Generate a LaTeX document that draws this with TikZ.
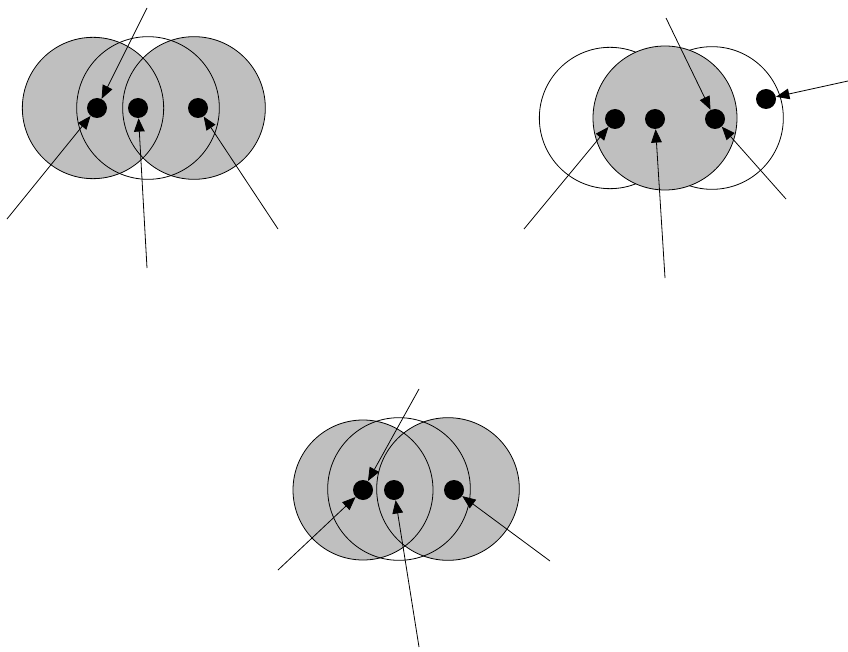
\documentclass[tikz,border=0pt]{standalone}
\usetikzlibrary{arrows.meta}
\definecolor{circgray}{gray}{0.75}
\tikzset{
  dot/.style={circle, fill=black, inner sep=0pt, minimum size=15pt},
  pointer/.style={-{Triangle[length=10pt,width=8pt]}, line width=0.6pt},
  ring/.style={line width=0.6pt},
}
\begin{document}
\begin{tikzpicture}[x=0.75pt,y=-0.75pt]
  \useasboundingbox (0,0) rectangle (848,652);
  % top left
  \fill[circgray] (93,108) circle [radius=53pt];
  \fill[circgray] (194,108) circle [radius=53.5pt];
  \draw[ring] (93,108) circle [radius=53pt];
  \draw[ring] (148,108) circle [radius=53.5pt];
  \draw[ring] (194,108) circle [radius=53.5pt];
  \node[dot] (a1) at (97,108) {};
  \node[dot] (a2) at (138,108) {};
  \node[dot] (a3) at (198,108) {};
  \coordinate (p1) at (147,8);
  \coordinate (p2) at (7,219);
  \coordinate (p3) at (147,268);
  \coordinate (p4) at (278,229);
  \draw[pointer] (p1) -- (a1);
  \draw[pointer] (p2) -- (a1);
  \draw[pointer] (p3) -- (a2);
  \draw[pointer] (p4) -- (a3);
  % top right
  \draw[ring, fill=white] (610,118) circle [radius=53pt];
  \draw[ring, fill=white] (712,118) circle [radius=53.5pt];
  \draw[ring, fill=circgray] (665,118) circle [radius=54pt];
  \node[dot] (b1) at (615,119) {};
  \node[dot] (b2) at (655,119) {};
  \node[dot] (b3) at (715,119) {};
  \node[dot] (b4) at (766,99) {};
  \coordinate (q1) at (666,18);
  \coordinate (q2) at (848,81);
  \coordinate (q3) at (524,229);
  \coordinate (q4) at (665,278);
  \coordinate (q5) at (786,199);
  \draw[pointer] (q1) -- (b3);
  \draw[pointer] (q2) -- (b4);
  \draw[pointer] (q3) -- (b1);
  \draw[pointer] (q4) -- (b2);
  \draw[pointer] (q5) -- (b3);
  % bottom
  \fill[circgray] (363,490) circle [radius=52.5pt];
  \fill[circgray] (448,489) circle [radius=53.5pt];
  \draw[ring] (363,490) circle [radius=52.5pt];
  \draw[ring] (399,489) circle [radius=53.5pt];
  \draw[ring] (448,489) circle [radius=53.5pt];
  \node[dot] (c1) at (363,490) {};
  \node[dot] (c2) at (394,490) {};
  \node[dot] (c3) at (454,490) {};
  \coordinate (r1) at (419,389);
  \coordinate (r2) at (278,570);
  \coordinate (r3) at (419,647);
  \coordinate (r4) at (550,561);
  \draw[pointer] (r1) -- (c1);
  \draw[pointer] (r2) -- (c1);
  \draw[pointer] (r3) -- (c2);
  \draw[pointer] (r4) -- (c3);
\end{tikzpicture}
\end{document}
